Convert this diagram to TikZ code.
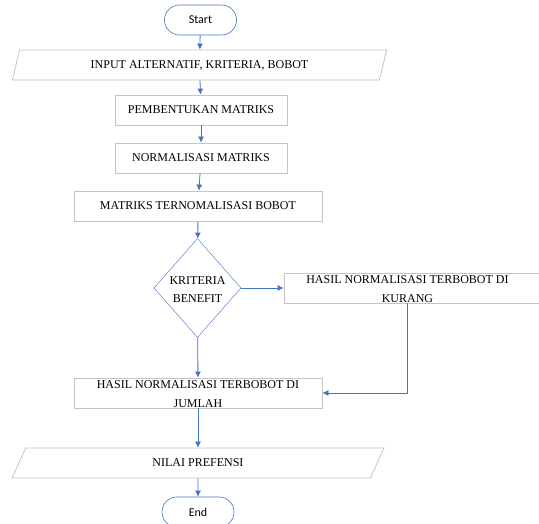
\documentclass[tikz,border=0pt]{standalone}
\usepackage{fontspec}
\setmainfont{Liberation Serif}
\newfontfamily\calibri{Carlito}
\usepackage{tikz}
\definecolor{wordblue}{RGB}{68,114,196}
\definecolor{boxgray}{RGB}{196,196,196}
\usetikzlibrary{shapes,arrows,arrows.meta}

\begin{document}
\begin{tikzpicture}[x=1pt, y=-1pt,
			>={Latex[length=6pt,width=6pt]},   %default arrow tips
			font=\fontsize{12}{18.5}\selectfont,
			terminal/.style={draw=wordblue, semithick, rounded corners=15pt, minimum width=72pt, minimum height=30pt, font=\calibri\fontsize{12}{14}\selectfont},
			io/.style={draw=boxgray, thick, trapezium, trapezium left angle=66, trapezium right angle=114, trapezium stretches=true, minimum width=375pt, minimum height=30pt, inner sep=0pt},
			process/.style={draw=boxgray, thick, minimum height=30pt, inner sep=0pt},
			decision/.style={draw=wordblue, diamond, minimum width=87pt, minimum height=99pt, inner sep=0pt, align=center},
			txt/.style={align=center, inner sep=0pt},
			flow/.style={->, wordblue, thick}]
			%picture size
			\useasboundingbox (0,0) rectangle (539,524);
			%nodes
			\node[terminal] (start) at (200.5,20) {Start};
			\node[io] (input) at (199.5,65) {INPUT ALTERNATIF, KRITERIA, BOBOT};
			\node[process, minimum width=172pt] (pembentukan) at (201,110) {PEMBENTUKAN MATRIKS};
			\node[process, minimum width=172pt] (normalisasi) at (201,158) {NORMALISASI MATRIKS};
			\node[process, minimum width=248pt] (terbobot) at (198,206) {MATRIKS TERNOMALISASI BOBOT};
			\node[decision] (benefit) at (197.5,288) {};
			\node[txt] (benefittxt) at (197.5,289.5) {KRITERIA\\BENEFIT};
			\node[process, minimum width=261pt] (kurang) at (414.5,288) {};
			\node[txt] (kurangtxt) at (407.5,289) {HASIL NORMALISASI TERBOBOT DI\\KURANG};
			\node[process, minimum width=248pt] (jumlah) at (198,393) {};
			\node[txt] (jumlahtxt) at (198,394) {HASIL NORMALISASI TERBOBOT DI\\JUMLAH};
			\node[io] (nilai) at (198,463) {NILAI PREFENSI};
			\node[terminal] (end) at (198,512) {End};
			%connectors
			\draw[flow] (start) -- (input);
			\draw[flow] (input) -- (pembentukan);
			\draw[flow] (pembentukan) -- (normalisasi);
			\draw[flow] (normalisasi) -- (terbobot);
			\draw[flow] (terbobot) -- (benefit);
			\draw[flow] (benefit) -- (kurang);
			\draw[flow] (benefit) -- (jumlah);
			\draw[flow] (kurang.south -| kurangtxt) |- (jumlah.east);
			\draw[flow] (jumlah) -- (nilai);
			\draw[flow] (nilai) -- (end);
		\end{tikzpicture}
\end{document}
